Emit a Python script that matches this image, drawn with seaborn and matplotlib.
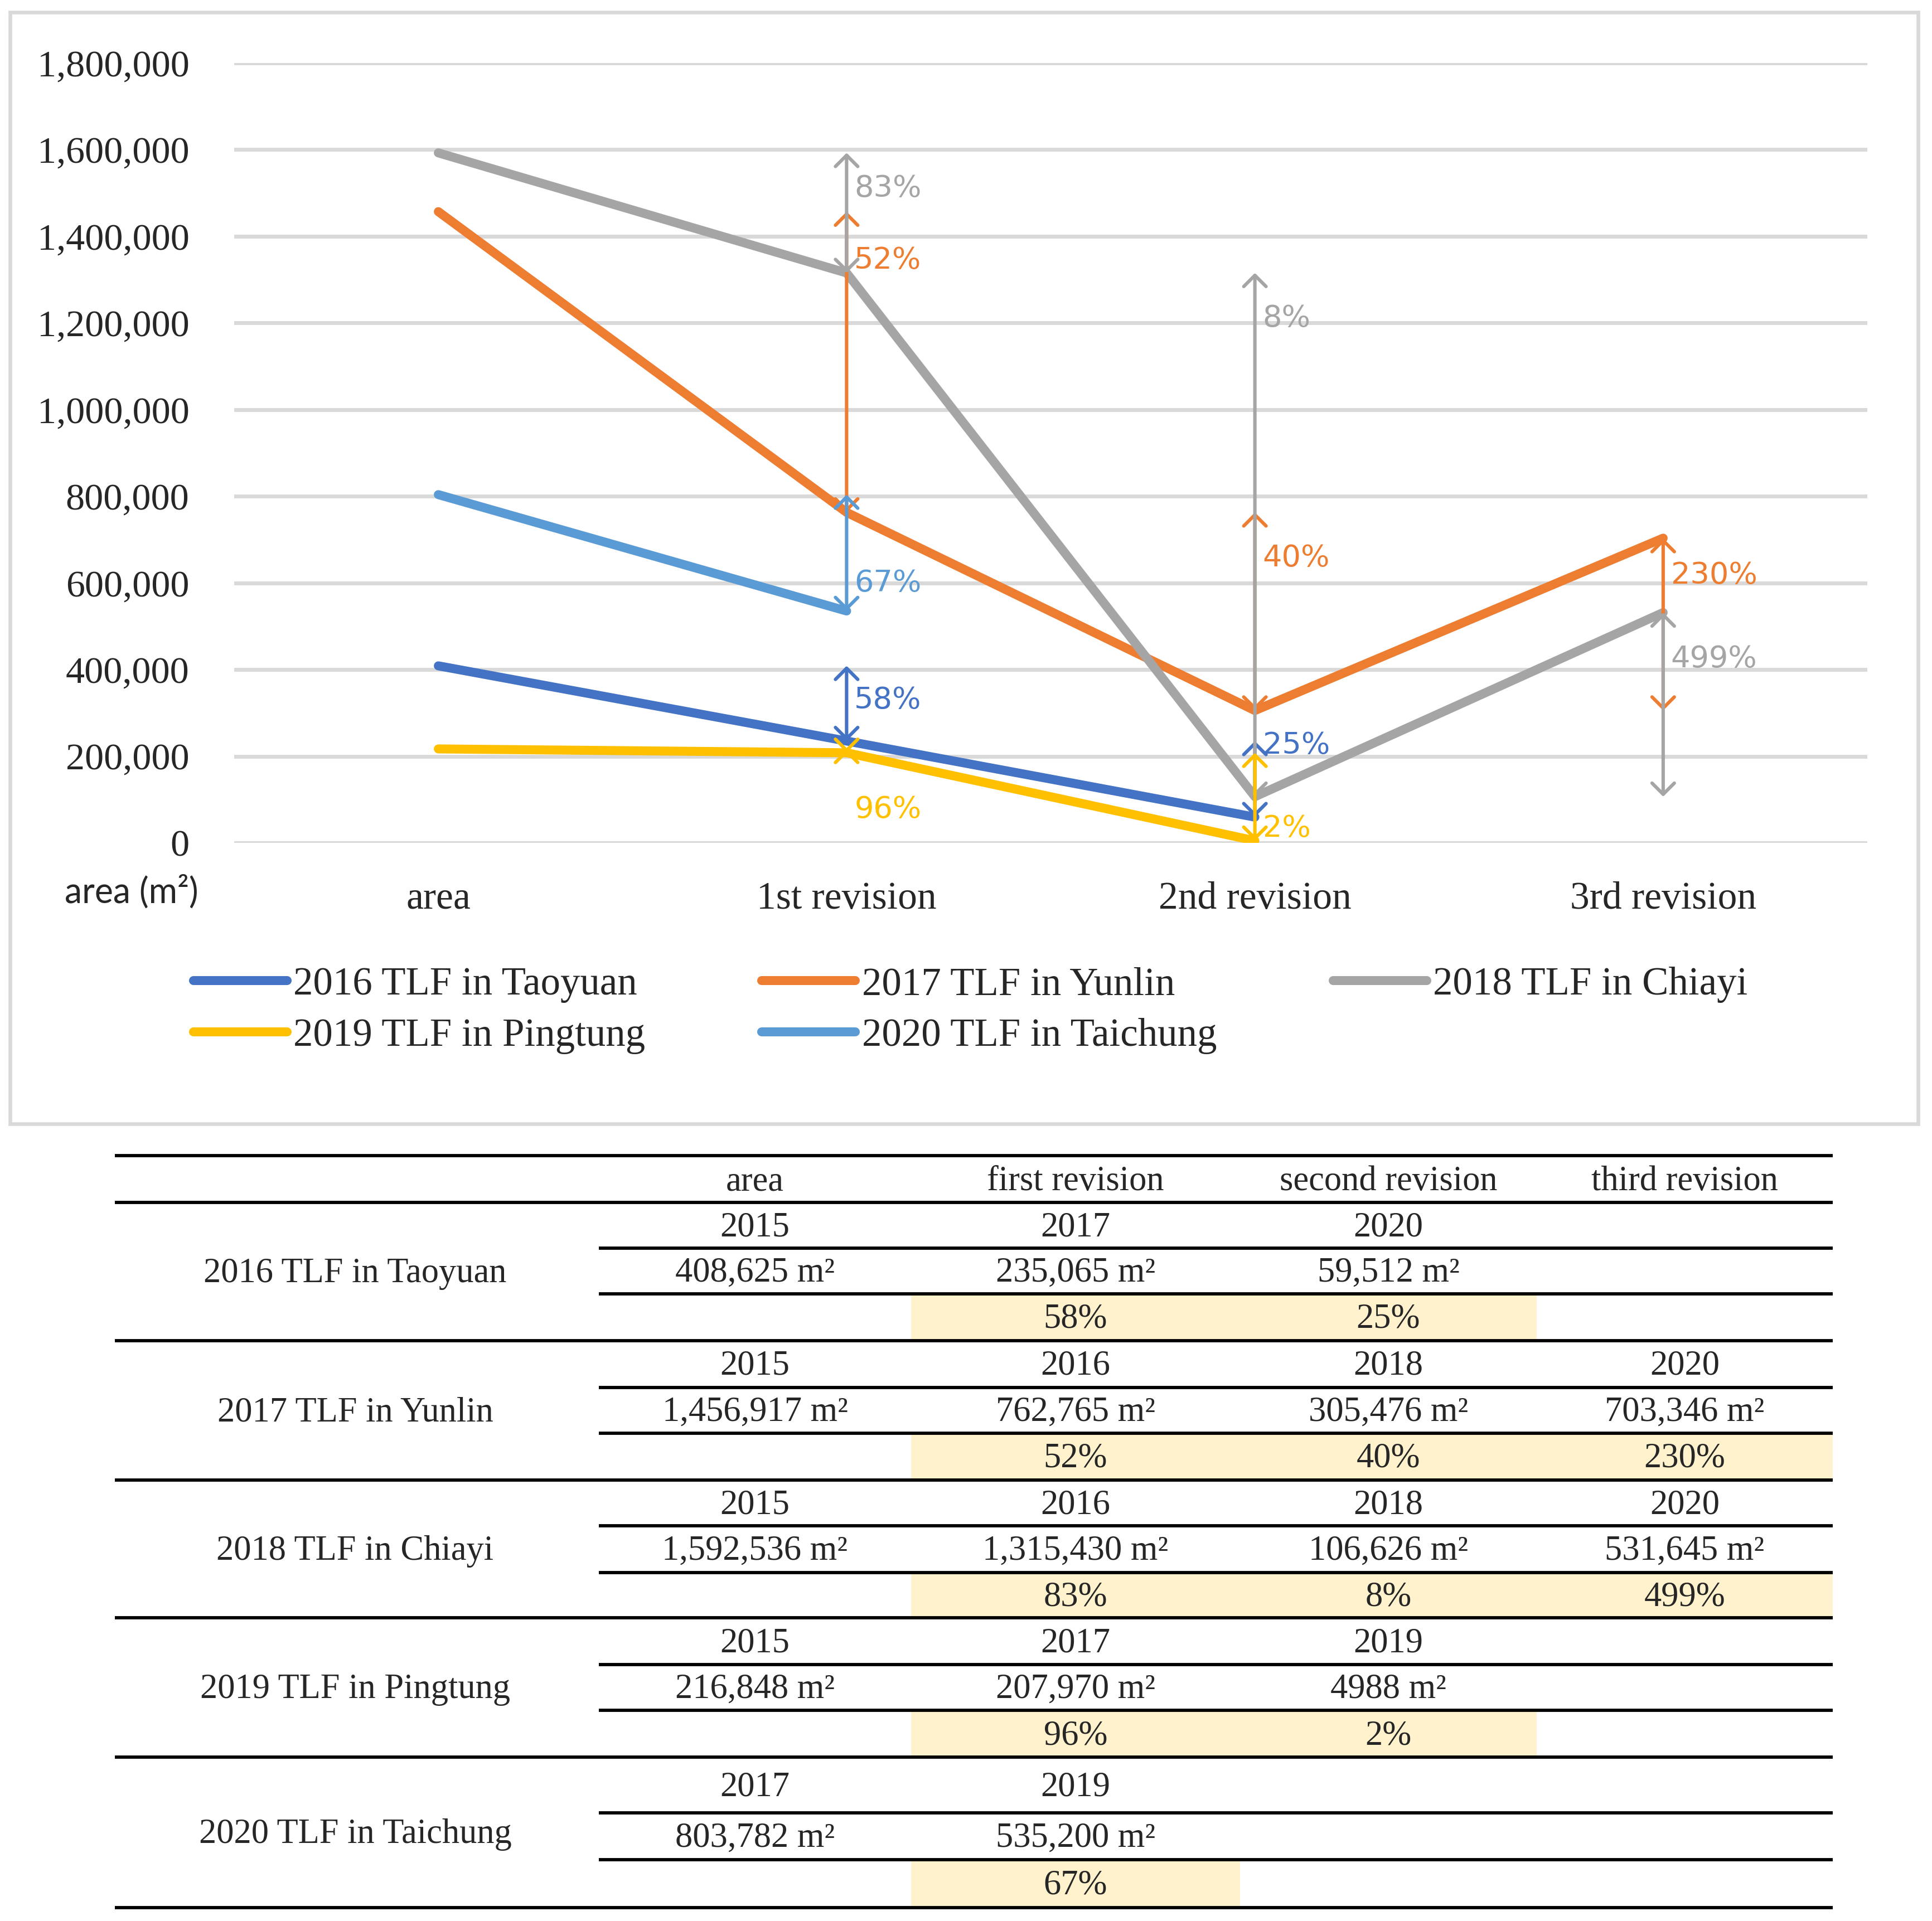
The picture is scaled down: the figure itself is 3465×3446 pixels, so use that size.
import numpy as np
import pandas as pd
import seaborn as sns
import matplotlib.pyplot as plt
from matplotlib.patches import Rectangle
from matplotlib.ticker import StrMethodFormatter

stages = ["area", "1st revision", "2nd revision", "3rd revision"]
sites = ["2016 TLF in Taoyuan", "2017 TLF in Yunlin", "2018 TLF in Chiayi",
         "2019 TLF in Pingtung", "2020 TLF in Taichung"]
taoyuan = [408625, 235065, 59512]
yunlin = [1456917, 762765, 305476, 703346]
chiayi = [1592536, 1315430, 106626, 531645]
pingtung = [216848, 207970, 4988]
taichung = [803782, 535200]
areas = [taoyuan, yunlin, chiayi, pingtung, taichung]

years = [[2015, 2017, 2020],
         [2015, 2016, 2018, 2020],
         [2015, 2016, 2018, 2020],
         [2015, 2017, 2019],
         [2017, 2019]]
pcts = [[58, 25], [52, 40, 230], [83, 8, 499], [96, 2], [67]]
col_headers = ["area", "first revision", "second revision", "third revision"]

colors = ["#4472C4", "#ED7D31", "#A5A5A5", "#FFC000", "#5B9BD5"]

# where the % labels sit (data units), one per arrow
label_y = [[330000, 225000],
           [1345000, 657000, 617000],
           [1510000, 1211000, 424000],
           [77000, 34000],
           [600000]]

W, H = 3466, 3446
SERIF = "Liberation Serif"

sns.set_style("white")
plt.rcParams["font.family"] = [SERIF, "DejaVu Sans"]

fig = plt.figure(figsize=(W / 200, H / 200), dpi=200)

# overlay axes in pixel units for the frame and the table
tab = fig.add_axes([0, 0, 1, 1])
tab.set_xlim(0, W)
tab.set_ylim(H, 0)
tab.axis("off")
tab.add_patch(Rectangle((18, 22), 3422, 1994, fill=False, edgecolor="#D9D9D9", lw=2.4))

# ---- line chart ----
ax = fig.add_axes([420 / W, 1 - 1512 / H, 2929 / W, (1512 - 113) / H])

rows = []
for s, vals in zip(sites, areas):
    for st, v in zip(stages, vals):
        rows.append({"stage": st, "area": v, "site": s})
df = pd.DataFrame(rows)
df["stage"] = pd.Categorical(df["stage"], categories=stages, ordered=True)

sns.lineplot(data=df, x="stage", y="area", hue="site", hue_order=sites,
             palette=colors, linewidth=5.8, sort=False, ax=ax, legend=True, zorder=3)
for ln in ax.lines:
    ln.set_solid_capstyle("round")
    ln.set_solid_joinstyle("round")

leg = ax.get_legend()
handles = list(leg.legend_handles)
labels = [t.get_text() for t in leg.get_texts()]
leg.remove()

ax.set_xlim(-0.5, 3.5)
ax.set_ylim(0, 1800000)
ax.set_yticks(np.arange(0, 1800001, 200000))
ax.yaxis.set_major_formatter(StrMethodFormatter("{x:,.0f}"))
ax.set_xticks(range(len(stages)))
ax.set_xticklabels(stages)
ax.set_xlabel("")
ax.set_ylabel("")
ax.yaxis.grid(True, color="#D9D9D9", lw=2.5)
ax.xaxis.grid(False)
ax.set_axisbelow(True)
for sp in ax.spines.values():
    sp.set_visible(False)
ax.tick_params(axis="y", length=0, pad=29, labelsize=24.5)
ax.tick_params(axis="x", length=0, pad=25, labelsize=25)

# change arrows with percentages
for i, vals in enumerate(areas):
    for k in range(1, len(vals)):
        ax.annotate("", xy=(k, vals[k - 1]), xytext=(k, vals[k]),
                    arrowprops=dict(arrowstyle="<->,head_length=0.4,head_width=0.4",
                                    color=colors[i], lw=2.2, mutation_scale=18,
                                    shrinkA=0, shrinkB=0),
                    zorder=4)
        ax.annotate(f"{pcts[i][k - 1]}%", xy=(k, label_y[i][k - 1]),
                    xytext=(5, 0), textcoords="offset points",
                    ha="left", va="center", color=colors[i],
                    fontsize=19.5, family="DejaVu Sans", zorder=5)

fig.text(236 / W, 1 - 1600 / H, "area (m²)", ha="center", va="center",
         fontsize=22.5, family="Lato")

# legend filled row-wise like the original
order = [0, 3, 1, 4, 2]
lg = fig.legend([handles[j] for j in order], [labels[j] for j in order],
                loc="upper left", bbox_to_anchor=(347 / W, 1 - 1734 / H),
                ncol=3, frameon=False, fontsize=25.5, handlelength=2.37,
                handletextpad=0.16, columnspacing=2.95, borderpad=0,
                borderaxespad=0, labelspacing=0.38)
for h in lg.legend_handles:
    h.set_linewidth(5.8)
    h.set_solid_capstyle("round")

# ---- table ----
edges = [2073, 2157, 2239, 2321, 2405, 2489, 2571, 2655, 2737, 2821,
         2902, 2986, 3068, 3152, 3252, 3336, 3422]
x_left, x_inner, x_right = 206, 1074, 3287
col_edges = [1074, 1634, 2224, 2756, 3287]
col_mid = [(a + b) / 2 for a, b in zip(col_edges[:-1], col_edges[1:])]
name_x = 637
tfs = 22.5
lw_t = 2.1

# fills first, lines over them
for g, vals in enumerate(areas):
    top = edges[1 + 3 * g + 2]
    bot = edges[1 + 3 * g + 3]
    tab.add_patch(Rectangle((col_edges[1], top), col_edges[len(vals)] - col_edges[1],
                            bot - top, facecolor="#FFF2CC", edgecolor="none"))

for j, e in enumerate(edges):
    full = j in (0, 1, 4, 7, 10, 13, 16)
    tab.plot([x_left if full else x_inner, x_right], [e, e], color="black",
             lw=lw_t, solid_capstyle="butt")

hy = (edges[0] + edges[1]) / 2 + 5
for c, txt in enumerate(col_headers):
    tab.text(col_mid[c], hy, txt, ha="center", va="center", fontsize=tfs)


def fmt_area(v):
    return (f"{v:,}" if v >= 10000 else str(v)) + " m²"


for g, vals in enumerate(areas):
    r0 = 1 + 3 * g
    ymid = [(edges[r0 + k] + edges[r0 + k + 1]) / 2 + 4 for k in range(3)]
    tab.text(name_x, (edges[r0] + edges[r0 + 3]) / 2 + 4, sites[g],
             ha="center", va="center", fontsize=tfs)
    for c, v in enumerate(vals):
        tab.text(col_mid[c], ymid[0], str(years[g][c]), ha="center", va="center", fontsize=tfs)
        tab.text(col_mid[c], ymid[1], fmt_area(v), ha="center", va="center", fontsize=tfs)
    for c, p in enumerate(pcts[g]):
        tab.text(col_mid[c + 1], ymid[2], f"{p}%", ha="center", va="center", fontsize=tfs)

fig.savefig("out.png", dpi=200)
